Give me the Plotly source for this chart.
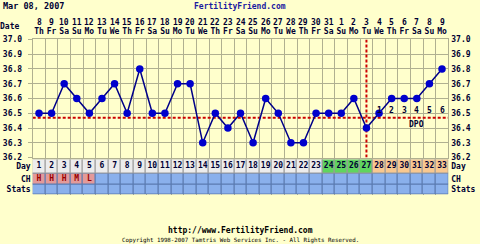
import plotly.graph_objects as go

W, H = 480, 244

# ---------------- data ----------------
DAYS = list(range(1, 34))
DATES = list(range(8, 32)) + list(range(1, 10))
WEEKDAYS = ["Th", "Fr", "Sa", "Su", "Mo", "Tu", "We"] * 4 + ["Th", "Fr", "Sa", "Su", "Mo"]
TEMPS = [36.5, 36.5, 36.7, 36.6, 36.5, 36.6, 36.7, 36.5, 36.8, 36.5,
         36.5, 36.7, 36.7, 36.3, 36.5, 36.4, 36.5, 36.3, 36.6, 36.5,
         36.3, 36.3, 36.5, 36.5, 36.5, 36.6, 36.4, 36.5, 36.6, 36.6,
         36.6, 36.7, 36.8]
CH = ["H", "H", "H", "M", "L"] + [""] * 28
PHASE = ["none"] * 23 + ["fertile"] * 4 + ["luteal"] * 6
COVERLINE = 36.47
OVULATION_DAY = 27
DPO_DAYS = [28, 29, 30, 31, 32, 33]
DPO_LABELS = ["1", "2", "3", "4", "5", "6"]
DPO_LABEL_DAY = 31
Y_TICKS = [36.2, 36.3, 36.4, 36.5, 36.6, 36.7, 36.8, 36.9, 37.0]
ROW_NAMES = ["Stats", "CH", "Day"]

# ---------------- styles ----------------
BG = "#FFFFCC"
GRID = "#B0B090"
TXT = "#000033"
FONT = "DejaVu Sans Mono"
PHASE_COLORS = {"none": "#ECECEC", "fertile": "#5FD55F", "luteal": "#F8C890"}
BLUE = "#8AB0EC"
PINK = "#E39A9A"

def py(px):
    return 1 - px / H

X0, X1 = 32.7 / W, 448.3 / W
TEMP_DOM = [py(157.6), py(39.4)]
TAB_DOM = [py(194.5), py(159.5)]
# row edges in table units (1 unit = 1 px)
ROW_EDGES = [0, 10.2, 21.2, 35]
row_c = [(ROW_EDGES[i] + ROW_EDGES[i + 1]) / 2 for i in range(3)]

fig = go.Figure()

# table cells as bars
day_colors = [PHASE_COLORS[p] for p in PHASE]
ch_colors = [PINK if c else BLUE for c in CH]
stats_colors = [BLUE] * len(DAYS)
for i, (cols, lc) in enumerate([(stats_colors, "#5A7AB0"), (ch_colors, "#5A7AB0"), (day_colors, "#9A9A9A")]):
    fig.add_trace(go.Bar(
        x=DAYS, y=[ROW_EDGES[i + 1] - ROW_EDGES[i]] * len(DAYS), base=ROW_EDGES[i],
        width=1, marker=dict(color=cols, line=dict(color=lc, width=1)),
        xaxis="x", yaxis="y2", hoverinfo="skip", showlegend=False))

fig.add_trace(go.Scatter(
    x=DAYS, y=[row_c[2]] * len(DAYS), text=[str(d) for d in DAYS], mode="text",
    textfont=dict(family=FONT, size=8, color=TXT, weight="bold"),
    xaxis="x", yaxis="y2", hoverinfo="skip", showlegend=False))
fig.add_trace(go.Scatter(
    x=DAYS, y=[row_c[1]] * len(DAYS), text=CH, mode="text",
    textfont=dict(family=FONT, size=8, color="#990000", weight="bold"),
    xaxis="x", yaxis="y2", hoverinfo="skip", showlegend=False))
fig.add_trace(go.Scatter(
    x=DAYS, y=[row_c[1]] * len(DAYS), mode="markers", marker=dict(opacity=0),
    xaxis="x", yaxis="y4", hoverinfo="skip", showlegend=False))

# coverline and ovulation line
fig.add_trace(go.Scatter(
    x=[0.5, 33.5], y=[COVERLINE, COVERLINE], mode="lines",
    line=dict(color="#CC0000", width=2, dash="3px,2px"),
    xaxis="x", yaxis="y", hoverinfo="skip", showlegend=False))
fig.add_trace(go.Scatter(
    x=[OVULATION_DAY, OVULATION_DAY], y=[36.2, 37.0], mode="lines",
    line=dict(color="#CC0000", width=2, dash="3px,2px"),
    xaxis="x", yaxis="y", hoverinfo="skip", showlegend=False))

# temperatures
fig.add_trace(go.Scatter(
    x=DAYS, y=TEMPS, mode="lines+markers",
    line=dict(color="#000088", width=1.5),
    marker=dict(color="#0000CC", size=7.5),
    xaxis="x", yaxis="y", showlegend=False))
fig.add_trace(go.Scatter(
    x=DAYS, y=TEMPS, mode="markers", marker=dict(opacity=0),
    xaxis="x", yaxis="y3", hoverinfo="skip", showlegend=False))

tickfont = dict(family=FONT, size=8, color=TXT, weight="bold")

annotations = [
    dict(text=t, x=d, y=COVERLINE, xref="x", yref="y", yshift=7,
         xanchor="center", yanchor="middle", showarrow=False, font=tickfont)
    for d, t in zip(DPO_DAYS, DPO_LABELS)
]
annotations.append(dict(text="DPO", x=DPO_LABEL_DAY, y=COVERLINE, xref="x", yref="y", yshift=-6.5,
                        xanchor="center", yanchor="middle", showarrow=False, font=tickfont))
# date numbers row above the weekday tick labels
annotations += [
    dict(text=str(dt), x=d, y=py(23), xref="x", yref="paper",
         xanchor="center", yanchor="middle", showarrow=False, font=tickfont)
    for d, dt in zip(DAYS, DATES)
]
annotations += [
    dict(text="Mar 08, 2007", x=1 / W, y=py(6), xref="paper", yref="paper",
         xanchor="left", yanchor="middle", showarrow=False,
         font=dict(family=FONT, size=8.5, color=TXT, weight="bold")),
    dict(text="FertilityFriend.com", x=0.5, y=py(6), xref="paper", yref="paper",
         xanchor="center", yanchor="middle", showarrow=False,
         font=dict(family=FONT, size=8, color="#1A1AA0", weight="bold")),
    dict(text="Date", x=21 / W, y=py(27), xref="paper", yref="paper",
         xanchor="right", yanchor="middle", showarrow=False,
         font=tickfont),
    dict(text="http://www.FertilityFriend.com", x=0.5, y=py(230), xref="paper", yref="paper",
         xanchor="center", yanchor="middle", showarrow=False,
         font=dict(family=FONT, size=8, color="#000000", weight="bold")),
    dict(text="Copyright 1998-2007 Tamtris Web Services Inc. - All Rights Reserved.",
         x=0.5, y=py(240.7), xref="paper", yref="paper",
         xanchor="center", yanchor="middle", showarrow=False,
         font=dict(family=FONT, size=5.8, color="#000000")),
]

fig.update_layout(
    width=W, height=H, autosize=False,
    margin=dict(l=0, r=0, t=0, b=0, pad=0),
    paper_bgcolor=BG, plot_bgcolor=BG,
    barmode="overlay", bargap=0,
    xaxis=dict(domain=[X0, X1], range=[0.5, 33.5], side="top", anchor="y", automargin=False,
               tickmode="array", tickvals=DAYS, ticktext=WEEKDAYS,
               tickfont=tickfont, ticks="", showgrid=False, zeroline=False,
               ticklabelstandoff=1,
               showline=True, linecolor=GRID, mirror=True,
               minor=dict(tick0=0.5, dtick=1, showgrid=True, gridcolor=GRID, gridwidth=1, ticks="")),
    yaxis=dict(domain=TEMP_DOM, range=[36.2, 37.0], anchor="x", automargin=False,
               tickmode="array", tickvals=Y_TICKS, ticktext=[f"{v:.1f}" for v in Y_TICKS],
               tickfont=tickfont, ticks="outside", ticklen=4, tickcolor=GRID,
               ticklabelstandoff=4,
               showgrid=True, gridcolor=GRID, gridwidth=1, zeroline=False,
               showline=True, linecolor=GRID, mirror=True),
    yaxis3=dict(overlaying="y", side="right", anchor="x", range=[36.2, 37.0], automargin=False,
                tickmode="array", tickvals=Y_TICKS, ticktext=[f"{v:.1f}" for v in Y_TICKS],
                tickfont=tickfont, ticks="", showgrid=False, zeroline=False,
                ticklabelstandoff=2),
    yaxis2=dict(domain=TAB_DOM, range=[0, ROW_EDGES[-1]], anchor="x", automargin=False,
                tickmode="array", tickvals=row_c, ticktext=ROW_NAMES,
                tickfont=tickfont, ticks="", showgrid=False, zeroline=False,
                ticklabelstandoff=1),
    yaxis4=dict(overlaying="y2", side="right", anchor="x", range=[0, ROW_EDGES[-1]], automargin=False,
                tickmode="array", tickvals=row_c, ticktext=ROW_NAMES,
                tickfont=tickfont, ticks="", showgrid=False, zeroline=False,
                ticklabelstandoff=2),
    annotations=annotations,
)

fig.write_html("out.html")
